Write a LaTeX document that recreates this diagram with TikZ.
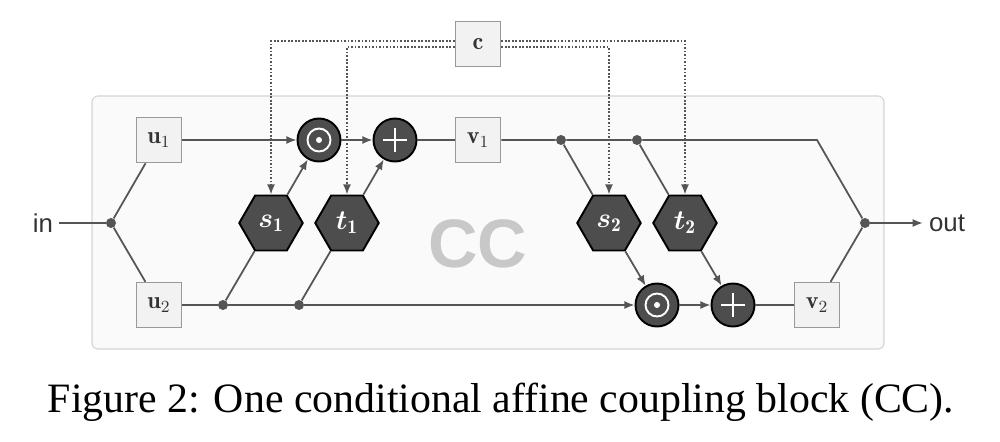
\RequirePackage{fix-cm}
\documentclass[tikz,border=0pt]{standalone}
\usepackage{amsmath, amsfonts, fontspec}
\usetikzlibrary{shapes.geometric, arrows.meta}
\newfontfamily\capfont{Liberation Serif}
\newfontfamily\labfont{Liberation Sans}
\definecolor{wirecol}{HTML}{555555}
\definecolor{opfill}{HTML}{4D4D4D}
\definecolor{varfill}{HTML}{F2F2F2}
\definecolor{varline}{HTML}{999999}
\definecolor{blockfill}{HTML}{FAFAFA}
\definecolor{blockline}{HTML}{D4D4D4}
\definecolor{tagcol}{HTML}{C8C8C8}
\tikzset{
wire/.style={draw=wirecol, line width=1pt},
flow/.style={wire, -{Latex[length=5.8pt,width=4.6pt]}},
ctrl/.style={flow, densely dotted},
block/.style={draw=blockline, fill=blockfill, line width=0.6pt, rounded corners=3.4pt},
var/.style={draw=varline, fill=varfill, line width=0.9pt, minimum size=0.9cm, inner sep=0pt,
  text=black!80, font=\fontsize{13.8}{15}\selectfont},
net/.style={regular polygon, regular polygon sides=6, draw=black, fill=opfill, line width=1.1pt,
  minimum size=1.27cm, inner sep=0pt, text=white, font=\fontsize{15.8}{17}\selectfont},
op/.style={circle, draw=black, fill=opfill, line width=1.1pt, minimum size=0.86cm, inner sep=0pt},
dot/.style={circle, fill=wirecol, minimum size=0.2cm, inner sep=0pt},
io/.style={text=black!80, font=\labfont\fontsize{14.7}{16}\selectfont},
bigtag/.style={text=tagcol, font=\labfont\bfseries\fontsize{39}{42}\selectfont},
odotsym/.pic={
  \draw[white, line width=1.1pt] (0,0) circle [radius=0.23cm];
  \fill[white] (0,0) circle [radius=0.06cm];
  },
oplussym/.pic={
  \draw[white, line width=1.1pt] (-0.24cm,0) -- (0.24cm,0);
  \draw[white, line width=1.1pt] (0,-0.24cm) -- (0,0.24cm);
  }
}
\begin{document}
\begin{tikzpicture}[x=0.02cm, y=-0.02cm]
\useasboundingbox (0,0) rectangle (1000,441);
\draw[block] (92,96) rectangle (884,349);
\node[bigtag] (cc) at (478,244) {CC};
\node[io] (in) at (43,223) {in};
\node[io] (out) at (947,223) {out};
\node[var] (c) at (478,44) {$\mathbf{c}$};
\node[var] (u1) at (159,140) {$\mathbf{u}_1$};
\node[var] (u2) at (159,305) {$\mathbf{u}_2$};
\node[var] (v1) at (478,140) {$\mathbf{v}_1$};
\node[var] (v2) at (817,305) {$\mathbf{v}_2$};
\node[net] (s1) at (271,223) {$\boldsymbol{s}_{\mathbf{1}}$};
\node[net] (t1) at (347,223) {$\boldsymbol{t}_{\mathbf{1}}$};
\node[net] (s2) at (609,223) {$\boldsymbol{s}_{\mathbf{2}}$};
\node[net] (t2) at (685,223) {$\boldsymbol{t}_{\mathbf{2}}$};
\node[op] (m1) at (319,140) {}; \pic at (m1) {odotsym};
\node[op] (a1) at (395,140) {}; \pic at (a1) {oplussym};
\node[op] (m2) at (657,305) {}; \pic at (m2) {odotsym};
\node[op] (a2) at (733,305) {}; \pic at (a2) {oplussym};
\node[dot] (split) at (111,223) {};
\node[dot] (merge) at (865,223) {};
\node[dot] (d1) at (223,305) {};
\node[dot] (d2) at (299,305) {};
\node[dot] (d3) at (561,140) {};
\node[dot] (d4) at (637,140) {};
% split into the two halves
\draw[wire] (in) -- (split);
\draw[wire] (split) -- (u1);
\draw[wire] (split) -- (u2);
% first coupling
\draw[flow] (u1) -- (m1);
\draw[flow] (m1) -- (a1);
\draw[wire] (a1) -- (v1);
\draw[flow] (u2) -- (d1) -- (d2) -- (m2);
\draw[wire] (d1) -- (s1);
\draw[wire] (d2) -- (t1);
\draw[flow] (s1.60) -- (m1);
\draw[flow] (t1.60) -- (a1);
% second coupling
\draw[wire] (v1) -- (d3) -- (d4) -- (v2 |- v1) -- (merge);
\draw[wire] (d3) -- (s2);
\draw[wire] (d4) -- (t2);
\draw[flow] (s2.300) -- (m2);
\draw[flow] (t2.300) -- (a2);
\draw[flow] (m2) -- (a2);
\draw[wire] (a2) -- (v2);
\draw[wire] (v2) -- (merge);
\draw[flow] (merge) -- (out);
% condition
\draw[ctrl] ([yshift=1.7pt]c.west) -| (s1.north);
\draw[ctrl] ([yshift=-1.7pt]c.west) -| (t1.north);
\draw[ctrl] ([yshift=-1.7pt]c.east) -| (s2.north);
\draw[ctrl] ([yshift=1.7pt]c.east) -| (t2.north);
\node[anchor=base, font=\capfont\fontsize{23.8}{28}\selectfont] (caption) at (501,412)
  {Figure 2: One conditional affine coupling block (CC).};
\end{tikzpicture}
\end{document}
